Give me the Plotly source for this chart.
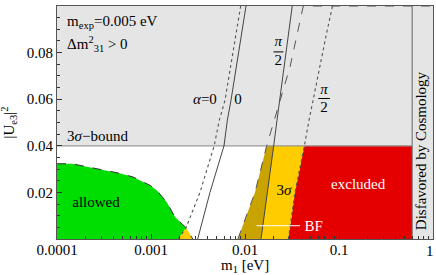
import math
import plotly.graph_objects as go

# ---------------- data ----------------
X_TICKS = [0.0001, 0.001, 0.01, 0.1, 1]
X_TICKTEXT = ["0.0001", "0.001", "0.01", "0.1", "1"]
X_MINOR = [m * 10.0 ** e for e in range(-4, 0) for m in range(2, 10)]
Y_TICKS = [0.02, 0.04, 0.06, 0.08, 0.1]
Y_TICKTEXT = ["0.02", "0.04", "0.06", "0.08", "0.1"]

UE3_BOUND = 0.04          # 3 sigma bound on |Ue3|^2
M1_COSMO = 0.6            # cosmology bound on m1
M1_MIN, M1_MAX = 0.0001, 1.0
UE3_MAX = 0.1

# allowed-region boundary (dashed, green)
M1_ELL = [0.0001, 0.000143, 0.000215, 0.000488, 0.000644, 0.00098, 0.00115, 0.00147, 0.0018, 0.00236, 0.00278]
UE3_ELL = [0.0323, 0.0323, 0.0309, 0.0280, 0.0266, 0.0230, 0.0209, 0.0158, 0.0094, 0.0048, 0.0]
ELL_APEX = 9  # index where the alpha=0 dotted curve meets the boundary

# alpha = 0 (dotted, 3 sigma)
M1_DOT0 = [0.00195, 0.00236, 0.00332, 0.0047, 0.00533, 0.00613, 0.0090]
UE3_DOT0 = [0.0, 0.0048, 0.020, 0.040, 0.051, 0.0596, 0.100]
# alpha = 0 (solid, best fit)
M1_SOL0 = [0.00314, 0.00424, 0.00598, 0.00649, 0.0071, 0.01025]
UE3_SOL0 = [0.0, 0.020, 0.040, 0.051, 0.0596, 0.100]
# alpha = pi/2 (solid, best fit)
M1_SOLPI2 = [0.0148, 0.0174, 0.0202, 0.0219, 0.0260, 0.0318]
UE3_SOLPI2 = [0.0, 0.020, 0.040, 0.051, 0.0738, 0.100]
# dashed boundary
M1_DASH = [0.0084, 0.01277, 0.0170, 0.0204, 0.0301, 0.0417, 1.0]
UE3_DASH = [0.0, 0.020, 0.040, 0.051, 0.0738, 0.100, 0.100]
# alpha = pi/2 (dotted, 3 sigma)
M1_DOTPI2 = [0.0289, 0.0340, 0.0428, 0.048, 0.074, 0.0853]
UE3_DOTPI2 = [0.0, 0.020, 0.040, 0.051, 0.0886, 0.100]

# BF marker line
M1_BF = [0.0133, 0.0385]
UE3_BF = [0.0057, 0.0057]

# pi/2 fraction labels: (x, y of pi, y of bar, y of 2, bar x0, bar x1)
FRAC1 = (0.0226, 0.0846, 0.0803, 0.0763, 0.0201, 0.0256)
FRAC2 = (0.0692, 0.0639, 0.0603, 0.0561, 0.0603, 0.0802)

# ---------------- colours ----------------
GRAY = "#e5e5e5"
GREEN = "#00dd00"
YELLOW = "#ffcc00"
OLIVE = "#c9a300"
RED = "#e50000"
FONT = "Times New Roman, Liberation Serif, serif"

fig = go.Figure()


def fill(xs, ys, color):
    fig.add_trace(go.Scatter(x=xs, y=ys, mode="lines", fill="toself", fillcolor=color,
                             line=dict(width=0, color=color), hoverinfo="skip", showlegend=False))


def line(xs, ys, color, dash="solid", width=1.0):
    fig.add_trace(go.Scatter(x=xs, y=ys, mode="lines", line=dict(color=color, dash=dash, width=width),
                             hoverinfo="skip", showlegend=False))


def below(xs, ys):
    px = [x for x, y in zip(xs, ys) if y <= UE3_BOUND]
    py = [y for y in ys if y <= UE3_BOUND]
    return px, py


# gray disfavoured regions
fill([M1_MIN, M1_MAX, M1_MAX, M1_MIN], [UE3_BOUND, UE3_BOUND, UE3_MAX, UE3_MAX], GRAY)
fill([M1_COSMO, M1_MAX, M1_MAX, M1_COSMO], [0, 0, UE3_BOUND, UE3_BOUND], GRAY)

# red excluded
dx, dy = below(M1_DOTPI2, UE3_DOTPI2)
fill(dx + [M1_COSMO, M1_COSMO], dy + [UE3_BOUND, 0], RED)
# yellow (3 sigma)
sx, sy = below(M1_SOLPI2, UE3_SOLPI2)
fill(sx + dx[::-1], sy + dy[::-1], YELLOW)
# olive
ax_, ay_ = below(M1_DASH, UE3_DASH)
fill(ax_ + sx[::-1], ay_ + sy[::-1], OLIVE)
# green allowed
fill(M1_ELL[:ELL_APEX + 1] + [M1_DOT0[0], M1_MIN],
     UE3_ELL[:ELL_APEX + 1] + [UE3_DOT0[0], 0], GREEN)
# orange small wedge
fill(M1_ELL[ELL_APEX:] + [M1_DOT0[0]], UE3_ELL[ELL_APEX:] + [UE3_DOT0[0]], YELLOW)

# bound lines
line([M1_MIN, M1_COSMO], [UE3_BOUND, UE3_BOUND], "#999999", width=1.2)
line([M1_COSMO, M1_COSMO], [0, UE3_MAX], "#666666", width=1.0)

# curves
line(M1_ELL, UE3_ELL, "#333333", dash="dash", width=1.0)
line(M1_DOT0, UE3_DOT0, "#555555", dash="dot", width=1.1)
line(M1_SOL0, UE3_SOL0, "#444444", width=1.0)
line(M1_SOLPI2, UE3_SOLPI2, "#444444", width=1.0)
line(M1_DASH, UE3_DASH, "#555555", dash="dash", width=1.0)
line(M1_DOTPI2, UE3_DOTPI2, "#555555", dash="dot", width=1.1)
line(M1_BF, UE3_BF, "white", width=1.0)


# ---------------- text labels ----------------
def text(x, y, s, color="black", size=15, pos="middle center"):
    fig.add_trace(go.Scatter(x=[x], y=[y], mode="text", text=[s], textposition=pos,
                             textfont=dict(family=FONT, size=size, color=color),
                             hoverinfo="skip", showlegend=False))


text(0.000128, 0.0931, "m<sub>exp</sub>=0.005 eV", pos="middle right")
text(0.000128, 0.0832, "Δm<sup>2</sup><sub>31</sub> > 0", pos="middle right")
text(0.000128, 0.0437, "3<i>σ</i>−bound", pos="middle right")
text(0.00026, 0.0154, "allowed")
text(0.00375, 0.0596, "<i>α</i>=0")
text(0.00843, 0.0596, "0")
for fx, fpi, fbar, ftwo, b0, b1 in (FRAC1, FRAC2):
    text(fx, fpi, "<i>π</i>")
    text(fx, ftwo, "2")
    line([b0, b1], [fbar, fbar], "black", width=1.0)
text(0.026, 0.0204, "3<i>σ</i>")
text(0.160, 0.0230, "excluded", color="white")
text(0.0538, 0.0051, "BF", color="white")

fig.add_annotation(x=math.log10(0.759), y=0.038, xref="x", yref="y", text="Disfavored by Cosmology",
                   textangle=-90, showarrow=False, font=dict(family=FONT, size=15, color="black"))
fig.add_annotation(x=0.5, y=-0.117, xref="paper", yref="paper", text="m<sub>1</sub> [eV]",
                   showarrow=False, yanchor="middle", font=dict(family=FONT, size=15, color="black"))
fig.add_annotation(x=-0.13, y=0.5, xref="paper", yref="paper", text="|U<sub>e3</sub>|<sup>2</sup>",
                   textangle=-90, showarrow=False, xanchor="center",
                   font=dict(family=FONT, size=15, color="black"))
# last x tick label sits on the right edge of the page
fig.add_annotation(x=1.0, y=-0.051, xref="paper", yref="paper", text=X_TICKTEXT[-1],
                   showarrow=False, xanchor="right", xshift=3, yanchor="middle",
                   font=dict(family=FONT, size=15, color="black"))

fig.update_layout(
    width=436, height=275,
    margin=dict(l=57, r=3, t=6, b=36, autoexpand=False),
    plot_bgcolor="white", paper_bgcolor="white",
    font=dict(family=FONT, size=15, color="black"),
    showlegend=False,
)
fig.update_xaxes(type="log", range=[-4, 0], tickvals=X_TICKS[:-1], ticktext=X_TICKTEXT[:-1], automargin=False,
                 ticks="inside", ticklen=5, tickcolor="#333", showgrid=False, zeroline=False,
                 showline=True, linecolor="#555", linewidth=1, mirror=True,
                 tickfont=dict(family=FONT, size=15), ticklabelstandoff=-3, ticklabeloverflow="allow",
                 minor=dict(ticks="inside", ticklen=3, tickvals=X_MINOR, tickcolor="#333", showgrid=False))
fig.update_yaxes(range=[0, UE3_MAX], tickvals=Y_TICKS, ticktext=Y_TICKTEXT, automargin=False,
                 ticks="inside", ticklen=5, tickcolor="#333", showgrid=False, zeroline=False,
                 showline=True, linecolor="#555", linewidth=1, mirror=True,
                 tickfont=dict(family=FONT, size=15),
                 minor=dict(ticks="inside", ticklen=3, dtick=0.005, tickcolor="#333", showgrid=False))

fig.write_html("out.html", config={"displayModeBar": False},
               post_script="document.body.style.margin='0';document.body.style.padding='0';")
